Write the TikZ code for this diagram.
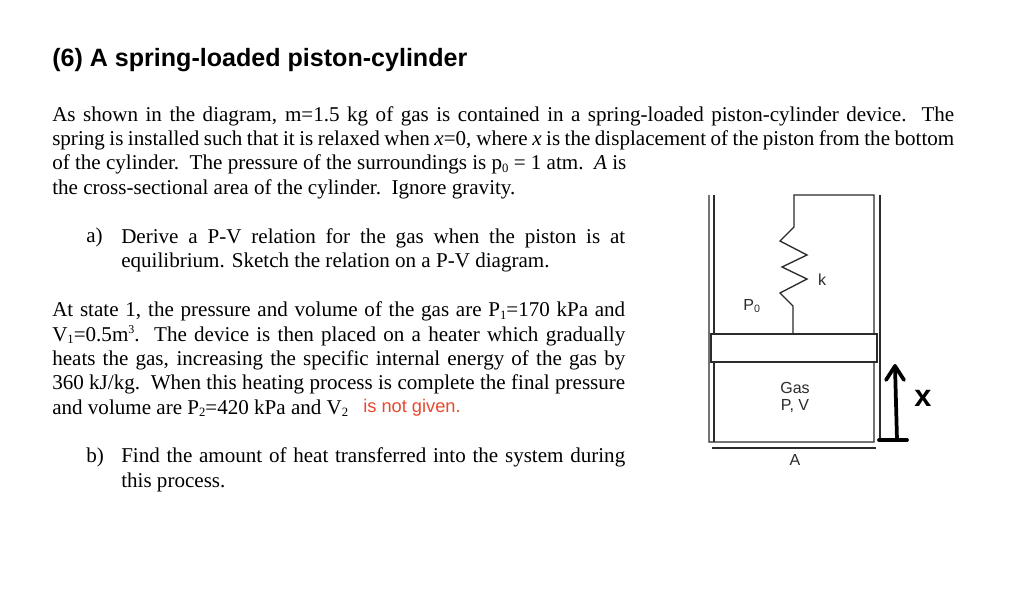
\documentclass[tikz,border=0pt]{standalone}
\usepackage{fontspec}
\usepackage{tikz}
\usetikzlibrary{positioning}
\setmainfont{Liberation Serif}
\newfontfamily\labelfont{Liberation Sans}
\definecolor{wallgray}{HTML}{2B2B2B}
\definecolor{notered}{HTML}{E8492F}
\newcommand{\lowidx}[1]{\raisebox{-0.25ex}{\fontsize{9.5}{9.5}\selectfont #1}}
\newcommand{\highidx}[1]{\raisebox{0.8ex}{\fontsize{9}{9}\selectfont #1}}
\tikzset{
	body/.style = {anchor=north west, inner sep=0pt, align=justify, font=\fontsize{15.8}{18.3}\selectfont},
	wall/.style = {draw=wallgray, line width=1pt},
	handline/.style = {line width=2.8pt, line cap=round, line join=round},
	tag/.style = {inner sep=0pt, text=wallgray, font=\labelfont\fontsize{12}{14}\selectfont}
}

\begin{document}
\begin{tikzpicture}[x=0.75pt, y=0.75pt]
	\useasboundingbox[fill=white] (0,0) rectangle (1024,-596);

	\node[anchor=west, inner sep=0pt, font=\labelfont\bfseries\fontsize{18.8}{22}\selectfont] (title) at (52,-60) {(6) A spring-loaded piston-cylinder};

	\node[body, text width=676.5pt] (intro) at (52,-106) {As shown in the diagram, m=1.5 kg of gas is contained in a spring-loaded piston-cylinder device.~\ The\linebreak
		\hbox to \linewidth{\spaceskip=0.13em plus 0.1em minus 0.02em spring is installed such that it is relaxed when \textit{x}=0, where \textit{x} is the displacement of the piston from the bottom}\\
		of the cylinder.~\ The pressure of the surroundings is p\lowidx{0} = 1 atm.~\ \textit{A} is\\
		the cross-sectional area of the cylinder.~\ Ignore gravity.};

	\node[body] (parta) at (86,-228) {a)};
	\node[body, text width=378pt] (partatext) at (121,-228) {Derive a P-V relation for the gas when the piston is at\linebreak
		equilibrium. Sketch the relation on a P-V diagram.};

	\node[body, text width=429.75pt] (state) at (52,-301.5) {At state 1, the pressure and volume of the gas are P\lowidx{1}=170 kPa and\linebreak
		V\lowidx{1}=0.5m\highidx{3}.~\ The device is then placed on a heater which gradually\linebreak
		heats the gas, increasing the specific internal energy of the gas by\linebreak
		360 kJ/kg.~\ When this heating process is complete the final pressure\linebreak
		and volume are P\lowidx{2}=420 kPa and V\lowidx{2}};
	\node[anchor=base west, inner sep=0pt, text=notered, font=\labelfont\fontsize{13.7}{16}\selectfont] (notgiven) at (363,-412) {is not given.};

	\node[body] (partb) at (86,-447.5) {b)};
	\node[body, text width=378pt] (partbtext) at (121,-447.5) {Find the amount of heat transferred into the system during\linebreak
		this process.};

	\coordinate (lt) at (709,-195);
	\coordinate[below=247 of lt] (lb);
	\coordinate[right=5 of lt] (it);
	\coordinate[below=247 of it] (ib);
	\coordinate (rt) at (874,-195);
	\coordinate[below=247 of rt] (rb);
	\coordinate[right=6 of rt] (ot);
	\coordinate[below=245 of ot] (ob);
	\coordinate (fl) at (712,-448);
	\coordinate[right=164 of fl] (fr);

	\coordinate[left=80 of rt] (s0);
	\coordinate[below=32 of s0] (s1);
	\coordinate[below left=14 and 14 of s1] (s2);
	\coordinate[below right=14 and 27 of s2] (s3);
	\coordinate[below left=12 and 25 of s3] (s4);
	\coordinate[below right=12 and 25 of s4] (s5);
	\coordinate[below left=14 and 27 of s5] (s6);
	\coordinate[below right=13 and 13 of s6] (s7);
	\coordinate[below=28 of s7] (s8);

	\draw[wall] (lt) -- (lb) -- (rb) -- (rt) -- (s0) -- (s1) -- (s2) -- (s3) -- (s4) -- (s5) -- (s6) -- (s7) -- (s8);
	\draw[wall] (it) -- (ib);
	\draw[wall] (ot) -- (ob);
	\draw[wall] (fl) -- (fr);

	\node[wall, fill=white, minimum width=124.5pt, minimum height=21pt, inner sep=0pt, outer sep=0pt, below=0 of s8, xshift=0.75pt] (piston) {};

	\coordinate (h1) at (879,-440);
	\coordinate[right=28 of h1] (h2);
	\coordinate[right=18 of h1] (a1);
	\coordinate[above left=74 and 2 of a1] (a2);
	\coordinate[below left=14 and 9 of a2] (a3);
	\coordinate[below right=14 and 9 of a2] (a4);
	\draw[handline] (h1) -- (h2);
	\draw[handline] (a1) -- (a2);
	\draw[handline] (a3) -- (a2) -- (a4);

	\node[inner sep=0pt, font=\labelfont\bfseries\fontsize{23}{25}\selectfont] (dist) at (923,-398) {x};
	\node[tag] (po) at (752,-306) {P\textsubscript{0}};
	\node[tag] (k) at (822,-280) {k};
	\node[tag] (gas) at (795,-388) {Gas};
	\node[tag] (pv) at (795,-406) {P, V};
	\node[tag] (area) at (795,-460) {A};
\end{tikzpicture}
\end{document}
